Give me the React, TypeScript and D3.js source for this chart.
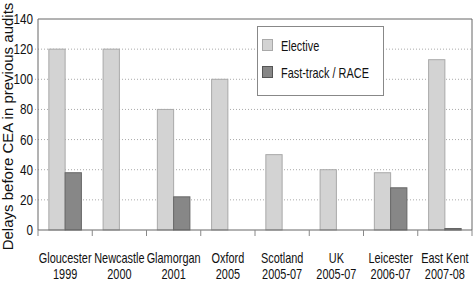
import React from "react";
import * as d3 from "d3";

const categories = ["Gloucester", "Newcastle", "Glamorgan", "Oxford", "Scotland", "UK", "Leicester", "East Kent"];
const years = ["1999", "2000", "2001", "2005", "2005-07", "2005-07", "2006-07", "2007-08"];
const elective = [120, 120, 80, 100, 50, 40, 38, 113];
const fastTrack = [38, 0, 22, 0, 0, 0, 28, 1];
const yTicks = [0, 20, 40, 60, 80, 100, 120, 140];
const seriesNames = ["Elective", "Fast-track / RACE"];

const W = 473, H = 282;
const L = 38, R = 472, T = 19, B = 230;
const FONT = "Liberation Sans, Arial, sans-serif";
const SX = 0.78;

export default function App() {
  const x = d3.scaleBand<string>().domain(categories).range([L, R]).padding(0);
  const y = d3.scaleLinear().domain([0, 140]).range([B, T]);
  const bw = x.bandwidth();
  const barW = bw * 0.3;

  const squeezed = (cx: number, cy: number, anchor: string, txt: string, size: number, key?: any) => (
    <text key={key} transform={`translate(${cx},${cy}) scale(${SX},1)`} textAnchor={anchor}
      fontSize={size} fontFamily={FONT} fill="#111">{txt}</text>
  );

  return (
    <div style={{ position: "absolute", left: 0, top: 0 }}>
      <svg width={W} height={H} style={{ display: "block" }}>
        <rect x={0} y={0} width={W} height={H} fill="#fff" />
        {yTicks.filter(t => t > 0 && t < 140).map(t => (
          <line key={t} x1={L - 3} x2={R} y1={y(t)} y2={y(t)} stroke="#aaa" strokeWidth={1} strokeDasharray="1,2" />
        ))}
        {categories.map((c, i) => {
          const x0 = (x(c) as number) + bw * 0.2;
          return (
            <g key={c}>
              <rect x={x0} y={y(elective[i])} width={barW} height={B - y(elective[i])}
                fill="#d3d3d3" stroke="#a9a9a9" strokeWidth={1} />
              {fastTrack[i] > 0 && (
                <rect x={x0 + barW} y={y(fastTrack[i])} width={barW} height={B - y(fastTrack[i])}
                  fill="#878787" stroke="#666" strokeWidth={1} />
              )}
            </g>
          );
        })}
        <line x1={L} x2={R} y1={T} y2={T} stroke="#666" />
        <line x1={R} x2={R} y1={T} y2={B} stroke="#666" />
        <line x1={L} x2={L} y1={T} y2={B} stroke="#666" />
        <line x1={L} x2={R} y1={B} y2={B} stroke="#666" />
        {categories.map(c => (
          <line key={c} x1={x(c) as number} x2={x(c) as number} y1={B} y2={B + 6} stroke="#888" />
        ))}
        <line x1={R} x2={R} y1={B} y2={B + 6} stroke="#888" />
        {yTicks.map(t => squeezed(L - 5, y(t) + 5, "end", String(t), 15, t))}
        {categories.map((c, i) => {
          const cx = (x(c) as number) + bw / 2;
          return (
            <g key={c}>
              {squeezed(cx, 263, "middle", c, 14)}
              {squeezed(cx, 279, "middle", years[i], 14)}
            </g>
          );
        })}
        <text transform={`translate(13,${(T + B) / 2 + 2}) rotate(-90)`} textAnchor="middle"
          fontSize={15} fontFamily={FONT} fill="#111">Delays before CEA in previous audits</text>
        <rect x={257.5} y={26.5} width={126} height={69} fill="#fff" stroke="#888" />
        <rect x={262.5} y={39.5} width={10} height={11} fill="#d3d3d3" stroke="#a9a9a9" />
        <rect x={262.5} y={66.5} width={10} height={11} fill="#878787" stroke="#555" />
        {squeezed(281, 51, "start", seriesNames[0], 14)}
        {squeezed(281, 78, "start", seriesNames[1], 14)}
      </svg>
    </div>
  );
}
